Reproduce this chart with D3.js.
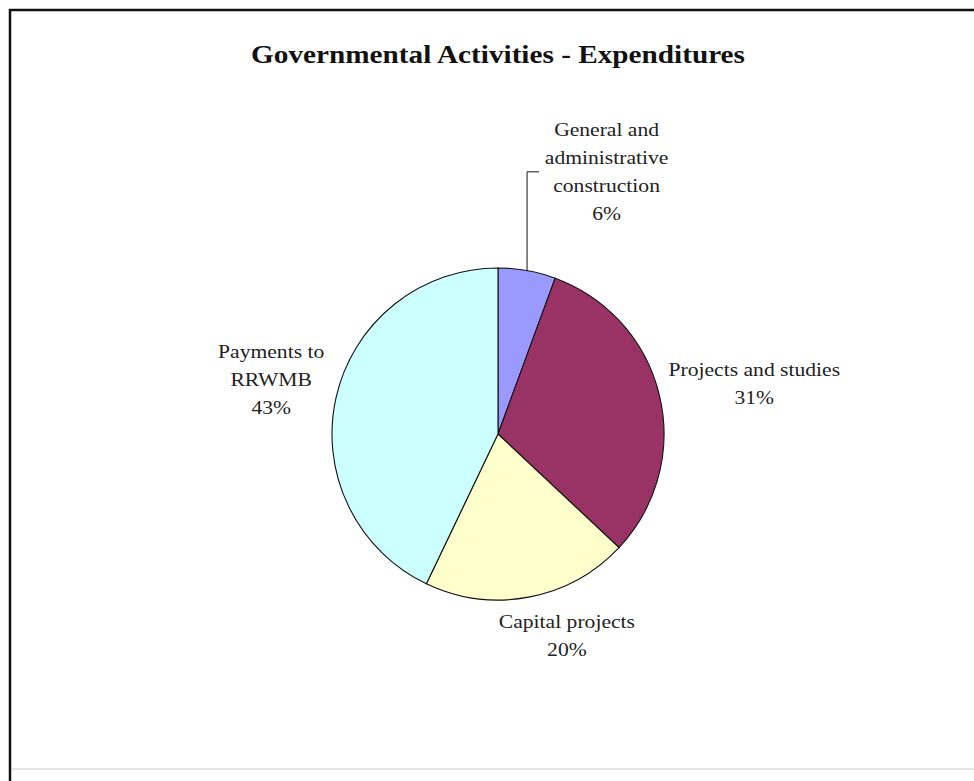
<!DOCTYPE html>
<html>
<head>
<meta charset="utf-8">
<script src="https://cdn.jsdelivr.net/npm/d3@7"></script>
<style>
  body { margin: 0; background: #fff; }
  svg { display: block; }
  .lbl { font-family: "Liberation Serif", "Times New Roman", serif; font-size: 18px; fill: #222; }
  .title { font-family: "Liberation Serif", "Times New Roman", serif; font-size: 25px; font-weight: bold; fill: #111; }
</style>
</head>
<body>
<div id="main"></div>
<script>
// chart data
var titleText = "Governmental Activities - Expenditures";
var categories = ["General and administrative construction", "Projects and studies", "Capital projects", "Payments to RRWMB"];
var labelLines = [
    ["General and", "administrative", "construction"],
    ["Projects and studies"],
    ["Capital projects"],
    ["Payments to", "RRWMB"]
];
var values = [5.6, 31.4, 20.1, 42.9];
var colors = ["#9999FF", "#993366", "#FFFFCC", "#CCFFFF"];

var ctx = {
    w: 974,
    h: 781,
    cx: 498,
    cy: 434,
    r: 166,
    lineH: 28,
    textScale: 1.2,
    // small nudges from the radial label spot, like Excel's "best fit"
    nudge: [[65, -17], [14, 7], [23, -43], [16, 1]]
};

var createViz = function(){
    var svgEl = d3.select("#main").append("svg")
                  .attr("width", ctx.w)
                  .attr("height", ctx.h);

    // chart frame
    svgEl.append("rect")
         .attr("x", 10).attr("y", 10)
         .attr("width", ctx.w + 20).attr("height", ctx.h + 20)
         .attr("fill", "#fff")
         .attr("stroke", "#111")
         .attr("stroke-width", 2.5);
    svgEl.append("line")
         .attr("x1", 12).attr("x2", ctx.w)
         .attr("y1", 769).attr("y2", 769)
         .attr("stroke", "#e4e4e4")
         .attr("stroke-width", 2);

    // title
    svgEl.append("text")
         .attr("class", "title")
         .attr("transform", "translate(" + ctx.cx + ",63) scale(1.17,1)")
         .attr("text-anchor", "middle")
         .text(titleText);

    var total = d3.sum(values);
    var pie = d3.pie().sort(null).value(function(d){ return d; });
    var arcs = pie(values);
    var arcGen = d3.arc().innerRadius(0).outerRadius(ctx.r);
    var labelArc = d3.arc().innerRadius(ctx.r * 1.5).outerRadius(ctx.r * 1.5);

    var pieG = svgEl.append("g")
                    .attr("transform", "translate(" + ctx.cx + "," + ctx.cy + ")");

    pieG.selectAll("path.slice")
        .data(arcs)
        .enter()
        .append("path")
        .attr("class", "slice")
        .attr("d", arcGen)
        .attr("fill", function(d, i){ return colors[i]; })
        .attr("stroke", "#111")
        .attr("stroke-width", 1.1);

    // labels
    arcs.forEach(function(d, i){
        var c = labelArc.centroid(d);
        var lx = c[0] + ctx.nudge[i][0];
        var ly = c[1] + ctx.nudge[i][1];
        var lines = labelLines[i].concat([Math.round(d.value / total * 100) + "%"]);
        var n = lines.length;
        var g = pieG.append("g")
                    .attr("transform", "translate(" + lx + "," + ly + ") scale(" + ctx.textScale + ",1)");
        g.selectAll("text")
         .data(lines)
         .enter()
         .append("text")
         .attr("class", "lbl")
         .attr("text-anchor", "middle")
         .attr("x", 0)
         .attr("y", function(t, j){ return (j - (n - 1) / 2) * ctx.lineH + 6; })
         .text(function(t){ return t; });

        // leader line for the small slice
        if (i === 0) {
            var mid = (d.startAngle + d.endAngle) / 2;
            var px = ctx.r * Math.sin(mid);
            var py = -ctx.r * Math.cos(mid);
            var ty = ly;
            pieG.append("polyline")
                .attr("points", [[px, py], [px, ty], [px + 12, ty]].map(function(p){ return p.join(","); }).join(" "))
                .attr("fill", "none")
                .attr("stroke", "#111")
                .attr("stroke-width", 1);
        }
    });
};

createViz();
</script>
</body>
</html>
